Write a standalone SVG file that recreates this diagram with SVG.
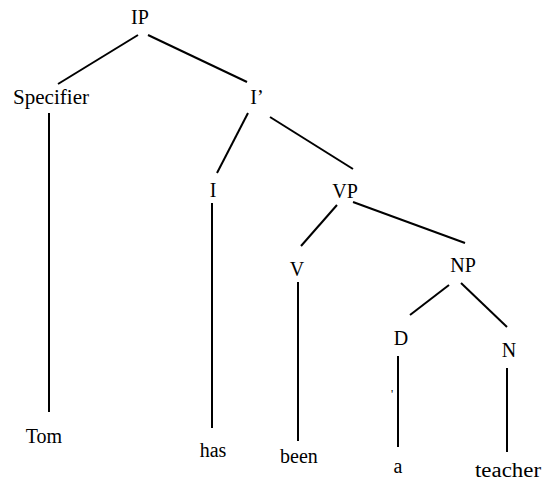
<svg xmlns="http://www.w3.org/2000/svg" width="545" height="482" viewBox="0 0 545 482">
<style>
.e line{stroke:#000;stroke-width:2;stroke-linecap:butt}
</style>
<rect width="545" height="482" fill="#fff"/>
<g class="e" id="connectors">
<line x1="138" y1="35" x2="58" y2="84"/>
<line x1="148" y1="35" x2="247" y2="82"/>
<line x1="49" y1="113" x2="49" y2="412"/>
<line x1="248" y1="113" x2="217" y2="173"/>
<line x1="270" y1="117" x2="353" y2="169"/>
<line x1="212" y1="203" x2="212" y2="428"/>
<line x1="337" y1="205" x2="301" y2="246"/>
<line x1="353" y1="202" x2="465" y2="243"/>
<line x1="298" y1="282" x2="298" y2="441"/>
<line x1="449" y1="285" x2="410" y2="315"/>
<line x1="461" y1="283" x2="507" y2="327"/>
<line x1="398" y1="356" x2="398" y2="447"/>
<line x1="507" y1="368" x2="507" y2="452"/>
</g>
<g font-family="Liberation Serif, serif" font-size="20" fill="#000" text-anchor="middle">
<g id="IP"><text x="140" y="24">IP</text></g>
<g id="Specifier"><text x="51" y="104" textLength="76" lengthAdjust="spacingAndGlyphs">Specifier</text></g>
<g id="Ibar"><text x="257" y="104">I’</text></g>
<g id="I"><text x="213" y="197">I</text></g>
<g id="VP"><text x="345" y="198">VP</text></g>
<g id="V"><text x="297" y="276">V</text></g>
<g id="NP"><text x="463" y="272">NP</text></g>
<g id="D"><text x="401" y="345">D</text></g>
<g id="N"><text x="509" y="357">N</text></g>
<g id="Tom"><text x="44" y="443">Tom</text></g>
<g id="has"><text x="213" y="457">has</text></g>
<g id="been"><text x="299" y="463">been</text></g>
<g id="a"><text x="398" y="473">a</text></g>
<g id="teacher"><text x="508" y="477" textLength="66" lengthAdjust="spacingAndGlyphs">teacher</text></g>
<g id="tick"><text x="392" y="398" font-size="12">'</text></g>
</g>
</svg>
